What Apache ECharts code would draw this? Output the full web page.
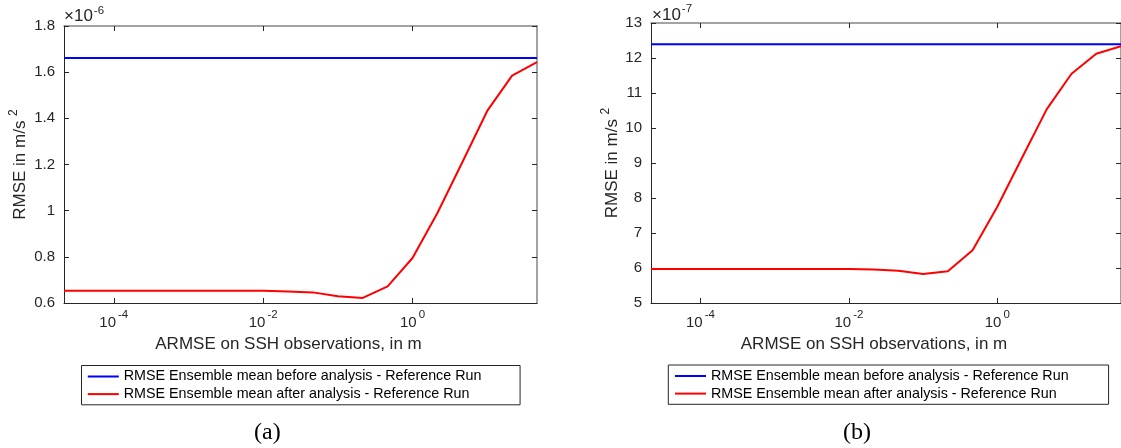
<!DOCTYPE html>
<html>
<head>
<meta charset="utf-8">
<script src="https://cdn.jsdelivr.net/npm/echarts@6/dist/echarts.min.js"></script>
<style>
  html, body { margin: 0; padding: 0; background: #fff; }
  #chart { width: 1121px; height: 448px; }
</style>
</head>
<body>
<div id="chart"></div>
<script>
// Observation error levels (ARMSE on SSH, in m), a third of a decade apart
const obsError = [2.154e-5, 4.642e-5, 1e-4, 2.154e-4, 4.642e-4, 1e-3, 2.154e-3, 4.642e-3,
  1e-2, 2.154e-2, 4.642e-2, 0.1, 0.2154, 0.4642, 1, 2.154, 4.642, 10, 21.54, 46.42];

// Panel (a): RMSE, in units of 1e-6 m/s^2
const rmseBeforeA = [1.661, 1.661, 1.661, 1.661, 1.661, 1.661, 1.661, 1.661, 1.661, 1.661,
  1.661, 1.661, 1.661, 1.661, 1.661, 1.661, 1.661, 1.661, 1.661, 1.661];
const rmseAfterA = [0.653, 0.653, 0.653, 0.653, 0.653, 0.653, 0.653, 0.653, 0.653, 0.650,
  0.646, 0.629, 0.622, 0.672, 0.795, 0.990, 1.210, 1.432, 1.585, 1.643];

// Panel (b): RMSE, in units of 1e-7 m/s^2
const rmseBeforeB = [12.39, 12.39, 12.39, 12.39, 12.39, 12.39, 12.39, 12.39, 12.39, 12.39,
  12.39, 12.39, 12.39, 12.39, 12.39, 12.39, 12.39, 12.39, 12.39, 12.39];
const rmseAfterB = [5.97, 5.97, 5.97, 5.97, 5.97, 5.97, 5.97, 5.97, 5.97, 5.96,
  5.92, 5.83, 5.91, 6.51, 7.75, 9.15, 10.54, 11.55, 12.12, 12.34];

// Axis ticks
const xTicks = [1e-4, 1e-2, 1];
const yTicksA = [0.6, 0.8, 1, 1.2, 1.4, 1.6, 1.8];
const yTicksB = [5, 6, 7, 8, 9, 10, 11, 12, 13];
const exponentA = -6;
const exponentB = -7;

const seriesNames = [
  'RMSE Ensemble mean before analysis - Reference Run',
  'RMSE Ensemble mean after analysis - Reference Run'
];

const INK = '#262626';
const BOX = '#858585';
const FONT = '"Liberation Sans", Arial, Helvetica, sans-serif';

const pairs = (xs, ys) => xs.map((x, i) => [x, ys[i]]);
const fmtNum = v => String(+v.toFixed(2));

function xAxesFor(grid) {
  const range = { min: obsError[0], max: obsError[obsError.length - 1] };
  return [
    Object.assign({
      gridIndex: grid, type: 'log', logBase: 10, position: 'bottom',
      axisLine: { show: true, onZero: false, lineStyle: { color: INK, width: 1 } },
      axisTick: { show: true, inside: true, length: 5, customValues: xTicks, lineStyle: { color: INK } },
      minorTick: { show: false },
      splitLine: { show: false },
      axisLabel: {
        show: true, margin: 6, customValues: xTicks,
        formatter: v => '{b|10}{s|' + Math.round(Math.log10(v)) + '}',
        rich: {
          b: { fontSize: 15, color: INK, fontFamily: FONT, lineHeight: 28 },
          s: { fontSize: 11.5, color: INK, fontFamily: FONT, verticalAlign: 'top', padding: [0, 0, 0, 2] }
        }
      },
      name: 'ARMSE on SSH observations, in m',
      nameLocation: 'middle', nameGap: 33,
      nameTextStyle: { fontSize: 17, color: INK, fontFamily: FONT, padding: [0, 24, 0, 0] }
    }, range),
    Object.assign({
      gridIndex: grid, type: 'log', logBase: 10, position: 'top',
      axisLine: { show: true, onZero: false, lineStyle: { color: BOX, width: 1.5 } },
      axisTick: { show: true, inside: true, length: 5, customValues: xTicks, lineStyle: { color: INK } },
      minorTick: { show: false },
      splitLine: { show: false },
      axisLabel: { show: false }
    }, range)
  ];
}

function yAxesFor(grid, ticks, nameGap) {
  const range = { min: ticks[0], max: ticks[ticks.length - 1] };
  return [
    Object.assign({
      gridIndex: grid, type: 'value', position: 'left',
      axisLine: { show: true, onZero: false, lineStyle: { color: INK, width: 1 } },
      axisTick: { show: true, inside: true, length: 5, customValues: ticks, lineStyle: { color: INK } },
      splitLine: { show: false },
      axisLabel: { show: true, margin: 9, customValues: ticks, formatter: fmtNum,
        fontSize: 15, color: INK, fontFamily: FONT },
      name: '{b|RMSE in m/s }{s|2}',
      nameLocation: 'middle', nameRotate: 90, nameGap: nameGap,
      nameTextStyle: {
        rich: {
          b: { fontSize: 17, color: INK, fontFamily: FONT, lineHeight: 24 },
          s: { fontSize: 12, color: INK, fontFamily: FONT, verticalAlign: 'top' }
        }
      }
    }, range),
    Object.assign({
      gridIndex: grid, type: 'value', position: 'right',
      axisLine: { show: true, onZero: false, lineStyle: { color: BOX, width: 1.5 } },
      axisTick: { show: true, inside: true, length: 5, customValues: ticks, lineStyle: { color: INK } },
      splitLine: { show: false },
      axisLabel: { show: false }
    }, range)
  ];
}

function lineSeries(name, xi, yi, ys, color) {
  return {
    name: name, type: 'line', xAxisIndex: xi, yAxisIndex: yi,
    data: pairs(obsError, ys),
    symbol: 'none', showSymbol: false,
    lineStyle: { color: color, width: 2 },
    itemStyle: { color: color },
    emphasis: { disabled: true }
  };
}

function exponentTitle(exp, left, top) {
  return {
    text: '{t|×10}{s|' + exp + '}', left: left, top: top, padding: 0,
    textStyle: {
      fontWeight: 'normal',
      rich: {
        t: { fontSize: 17, fontWeight: 'normal', color: INK, fontFamily: FONT, lineHeight: 24 },
        s: { fontSize: 11.5, fontWeight: 'normal', color: INK, fontFamily: FONT, verticalAlign: 'top', padding: [0, 0, 0, 1] }
      }
    }
  };
}

function captionTitle(text, left) {
  return {
    text: text, left: left, top: 420, padding: 0,
    textStyle: { fontFamily: '"Liberation Serif", "Times New Roman", serif', fontSize: 24,
      fontWeight: 'normal', color: '#000', lineHeight: 26 }
  };
}

function legendFor(left, top, padding) {
  return {
    data: seriesNames, orient: 'vertical', left: left, top: top,
    icon: 'rect', itemWidth: 31, itemHeight: 2, itemGap: 3.6, padding: padding,
    borderColor: INK, borderWidth: 1, backgroundColor: '#fff',
    selectedMode: false,
    textStyle: { fontSize: 14.3, color: '#000', fontFamily: FONT, lineHeight: 14 }
  };
}

const chart = echarts.init(document.getElementById('chart'), null, { renderer: 'canvas' });
chart.setOption({
  animation: false,
  backgroundColor: '#fff',
  title: [
    exponentTitle(exponentA, 64, 4.7),
    exponentTitle(exponentB, 652, 3),
    captionTitle('(a)', 254),
    captionTitle('(b)', 843)
  ],
  legend: [
    legendFor(81.5, 365.5, [4, 38.7, 3.7, 6.3]),
    legendFor(668.3, 365, [4, 40, 3.7, 6.7])
  ],
  grid: [
    { left: 64, top: 26, width: 473, height: 277, containLabel: false },
    { left: 651, top: 23, width: 477, height: 280, containLabel: false }
  ],
  xAxis: xAxesFor(0).concat(xAxesFor(1)),
  yAxis: yAxesFor(0, yTicksA, 32).concat(yAxesFor(1, yTicksB, 27)),
  series: [
    lineSeries(seriesNames[0], 0, 0, rmseBeforeA, '#0000ff'),
    lineSeries(seriesNames[1], 0, 0, rmseAfterA, '#ff0000'),
    lineSeries(seriesNames[0], 2, 2, rmseBeforeB, '#0000ff'),
    lineSeries(seriesNames[1], 2, 2, rmseAfterB, '#ff0000')
  ]
});
</script>
</body>
</html>
